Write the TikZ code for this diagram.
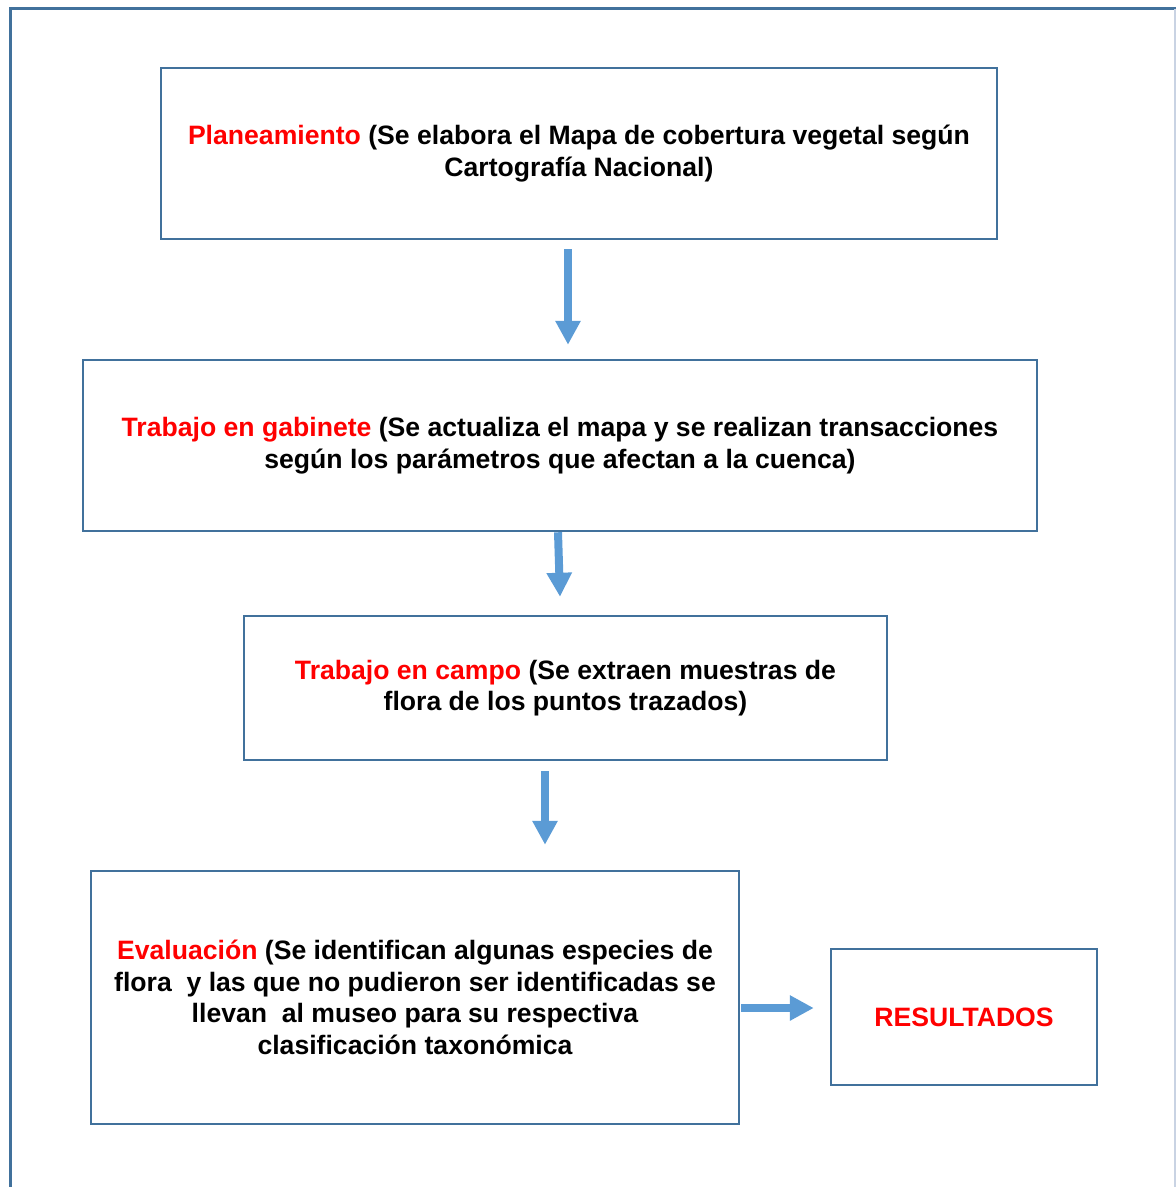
\documentclass[tikz,border=0pt]{standalone}
\usepackage{fontspec}
\setmainfont{Liberation Sans}
\usepackage{xcolor}
\definecolor{Steel Blue}{HTML}{41719C}
\definecolor{Cornflower}{HTML}{5B9BD5}
\definecolor{Pure Red}{HTML}{FF0000}
\definecolor{Mist}{HTML}{C9D3E3}
\colorlet{cBox}{Steel Blue}
\colorlet{cArrow}{Cornflower}
\colorlet{cRed}{Pure Red}
\colorlet{cEdge}{Mist}
\usepackage{tikz}
\usetikzlibrary{arrows.meta, positioning}
\tikzset{
	font = \fontsize{26.6}{31.5}\selectfont\bfseries,
	box/.style={
		draw=cBox,
		rectangle,
		line width=2.5pt,
		align=center,
		inner sep=0pt
	},
	flow/.style={
		draw=cArrow,
		line width=8pt,
		-{Triangle[length=24pt, width=24pt]}
	}
}

\begin{document}
\begin{tikzpicture}[x=1pt, y=-1pt]
		\useasboundingbox (0,0) rectangle (1176,1187);

		% page frame
		\draw[cBox, line width=3pt] (10,1187) -- (10,8.5) -- (1176,8.5);
		\draw[cEdge, line width=2pt] (1175,8.5) -- (1175,1187);

		\node[box, minimum width=836pt, minimum height=171pt] (plan) at (579,153.5)
			{\textcolor{cRed}{Planeamiento} (Se elabora el Mapa de cobertura vegetal según\\ Cartografía Nacional)};
		\node[box, minimum width=954pt, minimum height=171pt] (gab) at (560,445.5)
			{\textcolor{cRed}{Trabajo en gabinete} (Se actualiza el mapa y se realizan transacciones\\ según los parámetros que afectan a la cuenca)};
		\node[box, minimum width=643pt, minimum height=144pt] (campo) at (565.5,688)
			{\textcolor{cRed}{Trabajo en campo} (Se extraen muestras de\\ flora de los puntos trazados)};
		\node[box, minimum width=648pt, minimum height=253pt] (eval) at (415,997.5)
			{\textcolor{cRed}{Evaluación} (Se identifican algunas especies de\\ flora~ y las que no pudieron ser identificadas se\\ llevan~ al museo para su respectiva\\ clasificación taxonómica};
		\node[box, minimum width=266pt, minimum height=136pt] (res) at (964,1017)
			{\textcolor{cRed}{RESULTADOS}};

		\draw[flow] ([xshift=-11pt,yshift=-9pt]plan.south) -- ([xshift=8pt,yshift=14pt]gab.north);
		\draw[flow] ([xshift=-2pt]gab.south) -- ([xshift=-5.5pt,yshift=18pt]campo.north);
		\draw[flow] ([xshift=-20.5pt,yshift=-10pt]campo.south) -- ([xshift=130pt,yshift=25pt]eval.north);
		\draw[flow] ([xshift=1pt,yshift=-10.5pt]eval.east) -- ([xshift=-16pt,yshift=9pt]res.west);
	\end{tikzpicture}
\end{document}
